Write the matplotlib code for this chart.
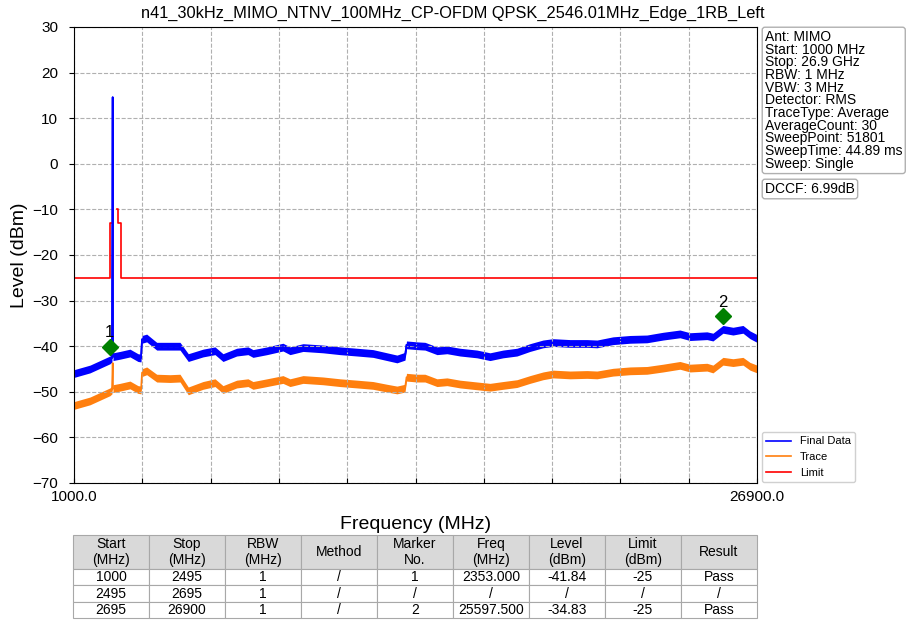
import numpy as np
import matplotlib
matplotlib.use("Agg")
import matplotlib.pyplot as plt

plt.rcParams['font.family'] = ['Liberation Sans', 'DejaVu Sans']

title = "n41_30kHz_MIMO_NTNV_100MHz_CP-OFDM QPSK_2546.01MHz_Edge_1RB_Left"

# Final Data (blue), MHz / dBm (band centre)
freq = [1000, 1607, 2365, 2440, 2467, 2480, 2744, 3124, 3427, 3541, 3579, 3757,
        4136, 4640, 5020, 5334, 5892, 6347, 6650, 7170, 7598, 7788, 8319, 8925,
        9191, 9684, 10442, 11087, 11732, 12338, 12869, 13248, 13552, 13609, 14007,
        14310, 14765, 15144, 15637, 16282, 16775, 17268, 17799, 18291, 18785, 19164,
        19808, 20453, 20832, 21439, 22083, 22728, 23335, 23979, 24358, 25003, 25230,
        25609, 25989, 26368, 26634, 26900]
final_data = [-46.0, -45.0, -43.0, -42.6, 14.6, -42.3, -42.0, -41.5, -42.5, -42.6, -38.5, -38.2,
              -40.0, -40.0, -40.0, -42.5, -41.5, -41.0, -42.5, -41.3, -41.0, -41.6, -41.0, -40.2,
              -41.0, -40.3, -40.6, -41.0, -41.3, -41.6, -42.3, -42.8, -42.2, -39.7, -39.9,
              -40.0, -41.0, -40.8, -41.3, -41.7, -42.3, -41.7, -41.3, -40.3, -39.5, -39.2,
              -39.4, -39.4, -39.5, -38.8, -38.5, -38.4, -37.8, -37.3, -37.9, -37.7, -38.0,
              -36.3, -36.7, -36.3, -37.5, -38.3]
trace = [-53.0, -52.0, -50.0, -49.6, -43.7, -49.3, -49.0, -48.5, -49.5, -49.6, -45.8, -45.4,
         -47.0, -47.1, -47.0, -49.8, -48.6, -48.0, -49.5, -48.3, -48.0, -48.6, -48.0, -47.3,
         -48.0, -47.3, -47.6, -48.0, -48.3, -48.6, -49.2, -49.6, -49.2, -46.8, -47.0,
         -47.0, -48.0, -47.8, -48.3, -48.7, -49.0, -48.6, -48.2, -47.3, -46.5, -46.1,
         -46.3, -46.2, -46.3, -45.7, -45.4, -45.3, -44.8, -44.2, -44.8, -44.6, -45.0,
         -43.3, -43.6, -43.3, -44.4, -45.0]

limit_freq = [1000, 2365, 2365, 2430, 2430, 2642, 2642, 2680, 2680, 2771, 2771, 26900]
limit_level = [-25, -25, -13, -13, np.nan, np.nan, -10, -10, -13, -13, -25, -25]

marker_no = ["1", "2"]
marker_freq = [2353.0, 25597.5]
marker_y = [-40.1, -33.4]

info = ["Ant: MIMO", "Start: 1000 MHz", "Stop: 26.9 GHz", "RBW: 1 MHz", "VBW: 3 MHz",
        "Detector: RMS", "TraceType: Average", "AverageCount: 30", "SweepPoint: 51801",
        "SweepTime: 44.89 ms", "Sweep: Single"]
dccf = "DCCF: 6.99dB"

col_labels = ["Start\n(MHz)", "Stop\n(MHz)", "RBW\n(MHz)", "Method", "Marker\nNo.",
              "Freq\n(MHz)", "Level\n(dBm)", "Limit\n(dBm)", "Result"]
rows = [["1000", "2495", "1", "/", "1", "2353.000", "-41.84", "-25", "Pass"],
        ["2495", "2695", "1", "/", "/", "/", "/", "/", "/"],
        ["2695", "26900", "1", "/", "2", "25597.500", "-34.83", "-25", "Pass"]]

fig = plt.figure(figsize=(9.06, 6.2), dpi=100)
ax = fig.add_axes([74 / 906, 1 - 483 / 620, 683 / 906, 456 / 620])

f = np.array(freq)
fd = np.array(final_data)
tr = np.array(trace)
ax.fill_between(f, fd - 0.85, fd + 0.85, color='blue', lw=0)
ax.plot(f, fd, color='blue', lw=1.2, label='Final Data')
ax.fill_between(f, tr - 0.85, tr + 0.85, color='#ff7f0e', lw=0)
ax.plot(f, tr, color='#ff7f0e', lw=1.2, label='Trace')
ax.plot(limit_freq, limit_level, color='red', lw=1.2, label='Limit')
ax.plot(f, fd, color='blue', lw=1.2)

for n, mf, my in zip(marker_no, marker_freq, marker_y):
    ax.plot(mf, my, marker='D', color='green', markersize=8, ls='none')
    ax.text(mf, my + 1.4, n, ha='center', va='bottom', fontsize=12)

ax.set_xlim(1000, 26900)
ax.set_ylim(-70, 30)
ax.set_yticks(np.arange(-70, 31, 10))
xt = np.linspace(1000, 26900, 11)
ax.set_xticks(xt)
ax.set_xticklabels(["1000.0"] + [""] * 9 + ["26900.0"])
ax.tick_params(axis='x', direction='in', labelsize=11, pad=5)
ax.tick_params(axis='y', labelsize=11, pad=8)
ax.grid(True, ls='--', color='#b0b0b0', lw=0.8)
ax.set_xlabel("Frequency (MHz)", fontsize=14, labelpad=9)
ax.set_ylabel("Level (dBm)", fontsize=14, labelpad=3)
fig.text(0.5, 1 - 13 / 620, title, ha='center', va='center', fontsize=11.8)

fig.text(765 / 906, 1 - 30 / 620, "\n".join(info), ha='left', va='top', fontsize=10,
         linespacing=0.88,
         bbox=dict(boxstyle='round,pad=0.2', fc='white', ec='#b0b0b0', lw=1))
fig.text(765 / 906, 1 - 189 / 620, dccf, ha='left', va='center', fontsize=10,
         bbox=dict(boxstyle='round,pad=0.2', fc='white', ec='#b0b0b0', lw=1))

ax.legend(loc='lower left', bbox_to_anchor=(762 / 906, 1 - 482 / 620),
          bbox_transform=fig.transFigure, fontsize=8, handlelength=2.2,
          framealpha=1, edgecolor='#d0d0d0', borderaxespad=0)

tax = fig.add_axes([73 / 906, 1 - 618 / 620, 684 / 906, 83 / 620])
tax.axis('off')
tbl = tax.table(cellText=rows, colLabels=col_labels, cellLoc='center', bbox=[0, 0, 1, 1])
tbl.auto_set_font_size(False)
for (r, c), cell in tbl.get_celld().items():
    cell.set_edgecolor('#a8a8a8')
    cell.set_linewidth(0.8)
    cell.get_text().set_fontsize(10)
    if r == 0:
        cell.set_facecolor('#d9d9d9')
        cell.set_height(2.1)
    else:
        cell.set_height(1.0)

fig.savefig("out.png", dpi=100)
